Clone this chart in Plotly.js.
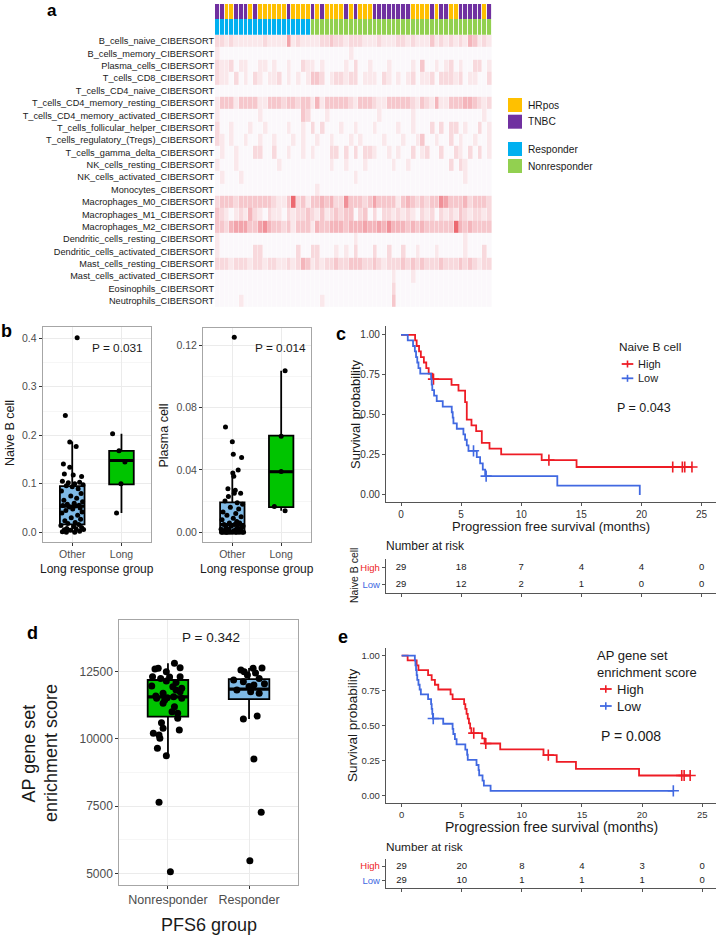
<!DOCTYPE html>
<html><head><meta charset="utf-8">
<script src="https://cdn.plot.ly/plotly-3.0.1.min.js"></script>
<style>html,body{margin:0;padding:0;background:#fff}#chart{width:718px;height:936px}</style>
</head><body><div id="chart"></div>
<script>
const FONT = 'Liberation Sans, Arial, Helvetica, sans-serif';
const W = 718, H = 936;
const PX = x => x / W;
const PY = y => 1 - y / H;

// ---------------- Panel a: CIBERSORT heatmap (intensity levels 0-9) ----------------
const cellTypes = ["B_cells_naive_CIBERSORT","B_cells_memory_CIBERSORT","Plasma_cells_CIBERSORT","T_cells_CD8_CIBERSORT",
  "T_cells_CD4_naive_CIBERSORT","T_cells_CD4_memory_resting_CIBERSORT","T_cells_CD4_memory_activated_CIBERSORT",
  "T_cells_follicular_helper_CIBERSORT","T_cells_regulatory_(Tregs)_CIBERSORT","T_cells_gamma_delta_CIBERSORT",
  "NK_cells_resting_CIBERSORT","NK_cells_activated_CIBERSORT","Monocytes_CIBERSORT","Macrophages_M0_CIBERSORT",
  "Macrophages_M1_CIBERSORT","Macrophages_M2_CIBERSORT","Dendritic_cells_resting_CIBERSORT",
  "Dendritic_cells_activated_CIBERSORT","Mast_cells_resting_CIBERSORT","Mast_cells_activated_CIBERSORT",
  "Eosinophils_CIBERSORT","Neutrophils_CIBERSORT"];

const B_cells_naive = [2,2,1,2,1,1,1,1,1,1, 2,1,1,1,1,5,1,2,1,1, 1,1,2,2,3,2,2,1,2,2, 2,1,1,1,2,1,1,1,2,2, 1,2,1,1,1,3,1,2,1,2, 1,2,1,4,3,1,2,1];
const B_cells_memory = [1,0,0,0,0,0,0,0,0,0, 0,0,0,0,0,0,0,0,0,0, 0,0,0,0,0,0,0,0,1,0, 0,0,0,0,0,0,0,0,0,0, 0,0,0,0,0,0,0,0,0,0, 0,0,0,0,0,0,0,0];
const Plasma_cells = [2,1,1,2,0,1,1,0,0,1, 1,0,1,0,0,1,0,0,2,1, 1,0,1,0,0,0,0,1,0,2, 0,0,1,0,0,0,1,0,0,0, 0,1,0,3,0,0,1,0,1,2, 0,1,0,0,2,2,0,1];
const T_cells_CD8 = [2,1,1,0,2,0,1,0,2,1, 0,1,1,2,0,1,0,1,0,1, 3,3,2,0,1,2,2,1,2,2, 0,1,1,1,0,2,1,0,1,0, 1,2,0,1,1,2,0,2,2,2, 1,2,0,1,1,0,0,2];
const T_cells_CD4_naive = [0,0,0,0,0,0,0,0,0,0, 0,0,0,0,0,0,0,0,0,0, 0,0,0,0,0,0,0,0,0,0, 0,0,0,0,0,0,0,0,0,0, 0,0,0,0,0,0,0,0,0,0, 0,0,0,0,0,0,0,0];
const T_cells_CD4_memory_resting = [1,3,3,3,1,3,3,3,3,1, 1,3,3,3,2,3,3,2,3,3, 1,4,1,3,3,3,3,3,2,1, 3,3,3,2,1,1,3,3,3,3, 3,2,1,3,2,1,4,1,1,3, 3,3,4,4,3,2,1,2];
const T_cells_CD4_memory_activated = [1,0,0,0,0,0,0,0,0,1, 0,0,0,0,0,0,0,0,3,2, 0,0,0,1,0,0,0,0,0,0, 0,0,0,0,1,0,0,0,0,0, 0,1,0,0,0,0,0,0,0,0, 0,0,0,0,0,0,1,0];
const T_cells_follicular_helper = [2,0,0,1,0,0,0,1,0,0, 1,0,0,0,0,1,0,0,1,0, 2,0,2,0,0,0,1,0,0,1, 0,0,0,1,0,0,0,0,1,0, 0,1,0,0,0,2,0,2,0,2, 2,0,1,0,0,2,0,1];
const T_cells_regulatory = [2,1,0,1,0,0,1,0,0,1, 0,0,1,0,0,0,1,0,1,0, 0,1,0,0,1,0,0,0,1,0, 1,0,0,0,0,1,0,0,0,1, 0,0,1,3,0,0,1,0,0,2, 0,1,0,0,1,0,0,1];
const T_cells_gamma_delta = [0,1,0,0,1,0,0,0,2,2, 0,0,2,0,0,1,0,0,1,0, 1,0,0,0,2,2,0,2,0,2, 0,2,2,1,0,0,1,0,1,0, 0,2,0,1,2,0,0,2,0,0, 2,1,0,2,0,2,0,1];
const NK_cells_resting = [1,0,0,0,1,0,0,0,0,0, 0,0,0,1,0,0,0,0,0,0, 0,0,0,0,1,0,0,1,0,0, 0,1,0,0,0,0,0,1,0,0, 1,0,0,0,0,0,0,0,0,2, 0,2,1,0,0,0,0,0];
const NK_cells_activated = [0,1,0,0,0,1,0,0,0,0, 0,0,0,0,0,0,0,0,0,0, 0,0,0,0,0,0,0,0,0,1, 0,0,0,0,0,0,0,0,0,0, 0,0,0,0,0,0,0,0,0,0, 0,0,1,0,0,0,0,0];
const Monocytes = [0,0,0,0,0,0,0,0,0,0, 0,0,0,0,0,0,0,0,0,0, 0,1,0,0,0,0,0,0,0,0, 0,0,0,0,0,0,0,0,0,0, 0,0,0,0,0,0,0,0,0,0, 0,0,0,0,0,0,0,0];
const Macrophages_M0 = [2,3,3,3,2,3,3,3,3,3, 3,3,2,1,1,3,8,2,3,1, 3,3,4,3,4,2,2,6,3,3, 3,2,3,5,3,3,3,3,1,3, 4,3,2,3,2,3,3,6,5,3, 3,3,4,2,3,3,3,2];
const Macrophages_M1 = [3,2,1,0,1,2,1,4,2,1, 0,2,1,1,0,2,1,2,2,3, 2,1,3,1,2,3,2,3,3,0, 2,3,0,2,0,2,2,1,2,1, 2,1,0,2,1,2,0,2,1,2, 1,3,2,1,2,2,1,2];
const Macrophages_M2 = [3,3,2,4,5,5,5,3,3,5, 6,4,3,3,2,3,1,3,3,3, 1,4,3,3,4,4,4,3,4,4, 4,5,4,4,5,4,6,4,4,4, 3,4,3,4,3,3,3,3,3,3, 8,4,3,4,3,3,3,3];
const Dendritic_cells_resting = [1,0,0,0,0,0,0,0,0,0, 0,0,0,0,0,0,0,0,0,0, 0,0,0,0,0,0,0,0,0,1, 0,0,0,0,0,0,0,0,0,0, 0,0,0,0,0,0,0,0,0,0, 0,0,1,0,0,0,0,0];
const Dendritic_cells_activated = [1,0,0,0,0,0,0,0,2,2, 0,0,0,0,0,0,0,2,0,0, 2,2,0,0,0,1,0,1,0,2, 0,0,0,2,0,0,2,0,0,2, 0,0,1,0,0,0,1,0,0,0, 0,0,1,0,0,0,2,0];
const Mast_cells_resting = [2,2,2,1,2,2,2,1,2,2, 1,2,2,1,1,2,1,2,4,3, 1,2,1,2,2,3,2,2,3,3, 3,2,2,3,2,1,2,2,2,3, 2,3,2,3,2,2,2,3,2,2, 2,3,2,3,2,1,2,2];
const Mast_cells_activated = [0,0,0,0,0,0,0,0,0,0, 0,0,0,0,0,0,0,0,0,0, 0,0,0,0,0,0,0,0,0,0, 0,0,0,0,0,0,0,1,0,0, 0,1,0,0,0,0,0,0,0,0, 0,0,0,0,0,0,0,0];
const Eosinophils = [0,0,0,0,0,0,0,0,0,0, 0,0,0,0,0,0,0,0,0,0, 0,0,0,0,0,0,0,0,0,0, 0,0,0,0,0,0,0,2,0,0, 0,0,0,0,0,0,0,0,0,0, 0,0,0,0,0,0,0,0];
const Neutrophils = [0,0,0,0,0,1,0,0,0,0, 0,0,0,0,0,0,0,0,0,0, 0,0,1,0,0,0,0,0,0,0, 0,0,0,0,0,0,0,3,0,0, 0,0,0,0,0,0,0,0,0,0, 0,0,0,0,0,0,0,0];

const subtype = ["TNBC","TNBC","HRpos","HRpos","TNBC","TNBC","TNBC","HRpos","TNBC","HRpos",
  "HRpos","HRpos","HRpos","HRpos","HRpos","TNBC","HRpos","HRpos","HRpos","HRpos",
  "TNBC","HRpos","TNBC","HRpos","HRpos","HRpos","HRpos","TNBC","HRpos","TNBC",
  "HRpos","HRpos","HRpos","TNBC","TNBC","TNBC","TNBC","TNBC","TNBC","TNBC",
  "TNBC","HRpos","HRpos","HRpos","HRpos","TNBC","HRpos","TNBC","TNBC","HRpos",
  "HRpos","TNBC","TNBC","TNBC","TNBC","TNBC","HRpos","TNBC"];
const response = ["Responder","Responder","Responder","Responder","Responder","Responder","Responder","Responder","Responder","Responder",
  "Responder","Responder","Responder","Responder","Responder","Responder","Responder","Responder","Responder","Responder",
  "Nonresponder","Nonresponder","Nonresponder","Nonresponder","Nonresponder","Nonresponder","Nonresponder","Nonresponder","Nonresponder","Nonresponder",
  "Nonresponder","Nonresponder","Nonresponder","Nonresponder","Nonresponder","Nonresponder","Nonresponder","Nonresponder","Nonresponder","Nonresponder",
  "Nonresponder","Nonresponder","Nonresponder","Nonresponder","Nonresponder","Nonresponder","Nonresponder","Nonresponder","Nonresponder","Nonresponder",
  "Nonresponder","Nonresponder","Nonresponder","Nonresponder","Nonresponder","Nonresponder","Nonresponder","Nonresponder"];
const annoLabels = ["HRpos","TNBC","Responder","Nonresponder"];
const annoColors = ["#ffc000","#7030a0","#00b0f0","#92d050"];

// ---------------- Panel b ----------------
const groupsB = ["Other","Long"];
const naiveB_other = [0.401,0.241,0.186,0.177,0.141,0.134,0.120,0.118,0.115,0.105, 0.103,0.102,0.100,0.098,0.096,0.094,0.090,0.085,0.080,0.075,
  0.070,0.066,0.063,0.060,0.058,0.056,0.055,0.054,0.052,0.050, 0.048,0.045,0.042,0.040,0.035,0.030,0.027,0.024,0.020,0.018,
  0.016,0.014,0.012,0.010,0.008,0.007,0.006,0.005,0.004,0.002, 0.001,0.000,0.000];
const naiveB_other_jit = [0.10,-0.14,-0.05,0.08,-0.18,-0.05,-0.16,0.02,0.19,-0.20, 0.15,-0.08,0.05,0.22,-0.12,0.00,0.12,-0.22,0.18,-0.03,
  0.09,-0.17,0.21,0.04,-0.10,0.14,-0.19,0.07,-0.06,0.16, 0.01,-0.13,0.20,-0.21,0.11,-0.02,0.17,-0.15,0.06,-0.09,
  0.13,-0.23,0.03,0.19,-0.11,0.08,0.23,-0.16,-0.04,0.15, -0.20,0.05,-0.12];
const naiveB_long = [0.203,0.168,0.145,0.100,0.040];
const naiveB_long_jit = [-0.18,-0.05,0.07,-0.01,-0.10];
const naiveB_box = { Other:[0.000,0.0165,0.054,0.095,0.187], Long:[0.040,0.099,0.148,0.168,0.203] }; // lower, q1, median, q3, upper

const plasma_other = [0.125,0.0675,0.058,0.050,0.048,0.040,0.038,0.036,0.028,0.027, 0.025,0.025,0.023,0.020,0.019,0.018,0.016,0.015,0.013,0.012,
  0.011,0.010,0.009,0.008,0.007,0.006,0.006,0.005,0.005,0.004, 0.004,0.003,0.003,0.003,0.002,0.002,0.002,0.001,0.001,0.001,
  0.001,0,0,0,0,0,0,0,0,0, 0,0,0];
const plasma_other_jit = [0.04,-0.14,0.00,0.02,0.19,0.12,0.01,0.03,-0.09,0.06, 0.17,0.04,-0.08,-0.15,0.10,0.21,-0.04,0.13,-0.19,0.07,
  -0.11,0.18,0.02,-0.21,0.09,-0.06,0.15,-0.17,0.05,0.22, -0.02,-0.13,0.11,0.19,-0.23,0.08,-0.07,0.16,-0.18,0.03,
  0.12,-0.20,-0.10,0.06,0.20,-0.15,0.00,0.14,-0.05,0.23, -0.22,0.09,-0.12];
const plasma_long = [0.1035,0.0615,0.039,0.0165,0.0138];
const plasma_long_jit = [0.08,0.00,0.00,-0.14,0.08];
const plasma_box = { Other:[0.000,0.000,0.005,0.0192,0.0388], Long:[0.0138,0.0162,0.0388,0.0619,0.1035] };

// ---------------- Panel c: KM by naive B cell ----------------
const months = [0,5,10,15,20,25];
const cHigh_t = [0,1.17,1.3,1.5,1.65,1.9,2.1,2.3,2.6,4.2,4.78,5.33,5.47,5.86,6.25,6.72,7.36,8.33,11.7,14.6,24.2];
const cHigh_s = [1,0.966,0.931,0.897,0.862,0.828,0.793,0.759,0.724,0.688,0.652,0.580,0.471,0.435,0.399,0.326,0.290,0.254,0.218,0.175,0.175];
const cHigh_ct = [2.7,12.3,22.6,23.4,23.6,24.2];
const cHigh_cs = [0.724,0.218,0.175,0.175,0.175,0.175];
const cLow_t = [0,0.56,1.0,1.15,1.25,1.35,1.45,1.6,2.5,2.55,2.6,2.75,2.97,3.47,4.22,4.3,4.36,4.64,5.19,5.33,5.47,5.61,6.3,6.58,6.8,7.0,13.0,19.86];
const cLow_s = [1,0.966,0.931,0.897,0.862,0.828,0.793,0.759,0.724,0.690,0.655,0.621,0.586,0.552,0.517,0.483,0.448,0.414,0.379,0.345,0.310,0.276,0.236,0.197,0.158,0.118,0.059,0];
const cLow_ct = [6.03,7.08];
const cLow_cs = [0.276,0.118];
const cRiskHigh = [29,18,7,4,4,0];
const cRiskLow = [29,12,2,1,0,0];

// ---------------- Panel d ----------------
const groupsD = ["Nonresponder","Responder"];
const ap_nonresp = [12810,12649,12624,12600,12500,12314,12314,12300,12250,12153, 12100,11967,11942,11880,11818,11756,11700,11600,11570,11530,
  11508,11508,11450,11322,11200,11012,10950,10764,10600,10392, 10330,10206,10144,10020,9648,9375,7639,5060];
const ap_nonresp_jit = [0.08,0.15,-0.12,-0.16,-0.02,-0.19,0.15,0.02,-0.09,-0.02, 0.10,-0.20,0.06,0.17,0.10,0.15,-0.06,-0.15,0.07,-0.01,
  -0.14,0.17,-0.04,-0.06,0.08,0.05,0.12,0.12,-0.08,-0.06, 0.14,-0.18,-0.11,-0.10,-0.13,-0.02,-0.11,0.03];
const ap_resp = [12640,12624,12562,12500,12450,12376,12250,12190,12128,12050, 12004,11950,11818,11756,11694,10851,10739,9251,7267,5469];
const ap_resp_jit = [0.16,0.05,-0.10,-0.06,0.08,-0.02,0.125,-0.19,-0.07,0.19, 0.06,0.00,-0.15,0.02,0.125,0.10,-0.07,0.06,0.15,0.01];
const ap_box = { Nonresponder:[9375,10826,11560,12191,12810], Responder:[10739,11476,11850,12227,12640] };

// ---------------- Panel e: KM by AP score ----------------
const eHigh_t = [0,0.5,1.25,1.4,2.2,2.5,2.77,3.05,4.07,4.24,5.2,5.3,5.4,5.5,5.6,5.7,5.8,6.7,6.9,8.2,11.8,12.9,14.5,19.75,24.0];
const eHigh_s = [1,0.966,0.931,0.897,0.862,0.828,0.793,0.759,0.724,0.690,0.655,0.621,0.586,0.552,0.517,0.483,0.448,0.411,0.374,0.332,0.291,0.243,0.194,0.146,0.146];
const eHigh_ct = [6.0,7.0,12.2,23.3,23.5,24.0];
const eHigh_cs = [0.448,0.374,0.291,0.146,0.146,0.146];
const eLow_t = [0,1.1,1.15,1.2,1.25,1.3,1.4,1.5,1.6,2.2,2.45,2.5,2.55,2.6,3.46,4.24,4.3,4.43,4.57,5.3,5.45,5.5,6.23,6.4,6.45,6.73,6.84,7.4,22.6];
const eLow_s = [1,0.966,0.931,0.897,0.862,0.828,0.793,0.759,0.724,0.690,0.655,0.621,0.586,0.552,0.515,0.478,0.442,0.405,0.368,0.331,0.294,0.258,0.221,0.184,0.147,0.110,0.074,0.037,0.037];
const eLow_ct = [2.63,22.6];
const eLow_cs = [0.552,0.037];
const eRiskHigh = [29,20,8,4,3,0];
const eRiskLow = [29,10,1,1,1,0];

// ---------------- styles ----------------
const RED = '#ee1c25', BLUE = '#4169e1';
const BOXBLUE = '#7fbae6', BOXGREEN = '#00c400';

const traces = [];

// heatmap body
traces.push({
  type:'heatmap', xaxis:'x', yaxis:'y', y: cellTypes,
  z: [B_cells_naive,B_cells_memory,Plasma_cells,T_cells_CD8,T_cells_CD4_naive,T_cells_CD4_memory_resting,
      T_cells_CD4_memory_activated,T_cells_follicular_helper,T_cells_regulatory,T_cells_gamma_delta,
      NK_cells_resting,NK_cells_activated,Monocytes,Macrophages_M0,Macrophages_M1,Macrophages_M2,
      Dendritic_cells_resting,Dendritic_cells_activated,Mast_cells_resting,Mast_cells_activated,Eosinophils,Neutrophils],
  zmin:0, zmax:9, showscale:false, xgap:0.4, hoverinfo:'skip',
  colorscale:[[0,'#fbf8fb'],[0.11,'#fae8eb'],[0.22,'#f8d9dd'],[0.33,'#f6c8cd'],[0.44,'#f4b6bc'],[0.56,'#f2a3aa'],[0.67,'#f08f97'],[0.89,'#ec6970'],[1,'#e9535a']]
});
// annotation bars
traces.push({
  type:'heatmap', xaxis:'x', yaxis:'y2', y:[0,1],
  z:[subtype.map(s => annoLabels.indexOf(s)), response.map(r => annoLabels.indexOf(r))],
  zmin:0, zmax:3, showscale:false, xgap:0.9, hoverinfo:'skip',
  colorscale:[[0,annoColors[0]],[0.1667,annoColors[0]],[0.1667,annoColors[1]],[0.5,annoColors[1]],[0.5,annoColors[2]],[0.8333,annoColors[2]],[0.8333,annoColors[3]],[1,annoColors[3]]]
});

// box helper
function addBox(xc, st, fill, xa, ya, w) {
  traces.push({type:'box', xaxis:xa, yaxis:ya, x:[xc], lowerfence:[st[0]], q1:[st[1]], median:[st[2]], q3:[st[3]], upperfence:[st[4]],
    width:w, fillcolor:fill, line:{color:'#000', width:1.8}, whiskerwidth:0, boxpoints:false, hoverinfo:'skip'});
  traces.push({type:'scatter', mode:'lines', xaxis:xa, yaxis:ya, x:[xc - w/2, xc + w/2], y:[st[2], st[2]],
    line:{color:'#000', width:3.2}, hoverinfo:'skip'});
}
function addPts(xc, vals, jit, size, xa, ya) {
  traces.push({type:'scatter', mode:'markers', xaxis:xa, yaxis:ya, x: jit.map(j => xc + j), y: vals,
    marker:{color:'#000', size:size}, hoverinfo:'skip', cliponaxis:false});
}
// panel b
addBox(1, naiveB_box.Other, BOXBLUE, 'x3', 'y3', 0.5);
addBox(2, naiveB_box.Long, BOXGREEN, 'x3', 'y3', 0.5);
addPts(1, naiveB_other, naiveB_other_jit, 5, 'x3', 'y3');
addPts(2, naiveB_long, naiveB_long_jit, 5, 'x3', 'y3');
addBox(1, plasma_box.Other, BOXBLUE, 'x4', 'y4', 0.5);
addBox(2, plasma_box.Long, BOXGREEN, 'x4', 'y4', 0.5);
addPts(1, plasma_other, plasma_other_jit, 5, 'x4', 'y4');
addPts(2, plasma_long, plasma_long_jit, 5, 'x4', 'y4');
// panel d
addBox(1, ap_box.Nonresponder, BOXGREEN, 'x7', 'y7', 0.5);
addBox(2, ap_box.Responder, BOXBLUE, 'x7', 'y7', 0.5);
addPts(1, ap_nonresp, ap_nonresp_jit, 7, 'x7', 'y7');
addPts(2, ap_resp, ap_resp_jit, 7, 'x7', 'y7');

// KM helper
function addKM(t, s, ct, cs, color, xa, ya) {
  traces.push({type:'scatter', mode:'lines', xaxis:xa, yaxis:ya, x:t, y:s, line:{color:color, width:1.8, shape:'hv'}, hoverinfo:'skip'});
  traces.push({type:'scatter', mode:'markers', xaxis:xa, yaxis:ya, x:ct, y:cs,
    marker:{symbol:'cross-thin', size:8, color:color, line:{color:color, width:1.6}}, hoverinfo:'skip', cliponaxis:false});
}
addKM(cHigh_t, cHigh_s, cHigh_ct, cHigh_cs, RED, 'x5', 'y5');
addKM(cLow_t, cLow_s, cLow_ct, cLow_cs, BLUE, 'x5', 'y5');
addKM(eHigh_t, eHigh_s, eHigh_ct, eHigh_cs, RED, 'x8', 'y8');
addKM(eLow_t, eLow_s, eLow_ct, eLow_cs, BLUE, 'x8', 'y8');

function addRisk(vals, row, xa, ya) {
  traces.push({type:'scatter', mode:'text', xaxis:xa, yaxis:ya, x:months, y:months.map(() => row), text:vals.map(String),
    textposition:'middle center', textfont:{family:FONT, size:9.5, color:'#1a1a1a'}, hoverinfo:'skip', cliponaxis:false});
}
addRisk(cRiskHigh, 2, 'x6', 'y6');
addRisk(cRiskLow, 1, 'x6', 'y6');
addRisk(eRiskHigh, 2, 'x9', 'y9');
addRisk(eRiskLow, 1, 'x9', 'y9');

// ---------------- axes ----------------
const bwX = (dom, anchor, ticktext, tfs) => ({domain:dom, anchor:anchor, range:[0.4,2.6], tickmode:'array', tickvals:[1,2], ticktext:ticktext,
  ticks:'outside', ticklen:3, tickcolor:'#333', tickfont:{family:FONT, size:tfs, color:'#4d4d4d'},
  showgrid:true, gridcolor:'#ebebeb', gridwidth:1, showline:true, mirror:true, linecolor:'#a6a6a6', linewidth:1, zeroline:false, fixedrange:true});
const bwY = (dom, anchor, range, tv, tt, minor, tfs) => ({domain:dom, anchor:anchor, range:range, tickmode:'array', tickvals:tv, ticktext:tt,
  ticks:'outside', ticklen:3, tickcolor:'#333', tickfont:{family:FONT, size:tfs, color:'#4d4d4d'},
  showgrid:true, gridcolor:'#ebebeb', gridwidth:1, minor:{tickvals:minor, showgrid:true, gridcolor:'#f4f4f4', gridwidth:0.8, ticks:''},
  showline:true, mirror:true, linecolor:'#a6a6a6', linewidth:1, zeroline:false, fixedrange:true});
const kmX = (dom, anchor, range, labels) => ({domain:dom, anchor:anchor, range:range, tickmode:'array', tickvals:months, ticktext:months.map(String),
  showticklabels:labels, ticks:'outside', ticklen:3, tickcolor:'#555', tickwidth:1, tickfont:{family:FONT, size:10, color:'#333'},
  showgrid:false, zeroline:false, showline:true, linecolor:'#555', linewidth:1.2, fixedrange:true});
const kmY = (dom, anchor, range) => ({domain:dom, anchor:anchor, range:range, tickmode:'array', tickvals:[0,0.25,0.5,0.75,1],
  ticktext:['0.00','0.25','0.50','0.75','1.00'], ticks:'outside', ticklen:3, tickcolor:'#555', tickfont:{family:FONT, size:10, color:'#333'},
  showgrid:false, zeroline:false, showline:true, linecolor:'#555', linewidth:1.2, fixedrange:true});
const riskY = (dom, anchor) => ({domain:dom, anchor:anchor, range:[0.5,2.5], tickmode:'array', tickvals:[1,2],
  ticktext:['<span style="color:' + BLUE + '">Low</span>','<span style="color:' + RED + '">High</span>'],
  ticks:'outside', ticklen:3, tickcolor:'#555', tickfont:{family:FONT, size:9.5},
  showgrid:false, zeroline:false, showline:true, linecolor:'#555', linewidth:1.2, fixedrange:true});

const layout = {
  width:W, height:H, margin:{l:0,r:0,t:0,b:0}, paper_bgcolor:'#fff', plot_bgcolor:'rgba(0,0,0,0)',
  showlegend:false, font:{family:FONT, color:'#1a1a1a'},
  xaxis:{domain:[PX(215),PX(492)], anchor:'y', range:[-0.5,57.5], visible:false, fixedrange:true},
  yaxis:{domain:[PY(307.2),PY(34.8)], anchor:'x', type:'category', autorange:'reversed', tickmode:'array', tickvals:cellTypes, ticktext:cellTypes,
    ticks:'', showline:false, showgrid:false, zeroline:false, tickfont:{family:FONT, size:9.2, color:'#1a1a1a'}, fixedrange:true},
  yaxis2:{domain:[PY(34.8),PY(4)], anchor:'x', range:[1.5,-0.5], visible:false, fixedrange:true},

  xaxis3: bwX([PX(42.7),PX(151)], 'y3', groupsB, 10.5),
  yaxis3: bwY([PY(541.7),PY(327)], 'x3', [-0.0194,0.4233], [0,0.1,0.2,0.3,0.4], ['0.0','0.1','0.2','0.3','0.4'], [0.05,0.15,0.25,0.35], 10.5),
  xaxis4: bwX([PX(203),PX(310.5)], 'y4', groupsB, 10.5),
  yaxis4: bwY([PY(541.7),PY(328)], 'x4', [-0.006,0.1309], [0,0.04,0.08,0.12], ['0.00','0.04','0.08','0.12'], [0.02,0.06,0.10], 10.5),

  xaxis5: kmX([PX(386),PX(716)], 'y5', [-1.25,26.2], true),
  yaxis5: kmY([PY(501.7),PY(326)], 'x5', [-0.042,1.056]),
  xaxis6: kmX([PX(386),PX(716)], 'y6', [-1.25,26.2], false),
  yaxis6: riskY([PY(592.6),PY(559.4)], 'x6'),

  xaxis7: bwX([PX(119.3),PX(297.7)], 'y7', groupsD, 12.5),
  yaxis7: bwY([PY(885),PY(620)], 'x7', [4565,14423], [5000,7500,10000,12500], ['5000','7500','10000','12500'], [6250,8750,11250,13750], 12),

  xaxis8: kmX([PX(386),PX(716)], 'y8', [-1.3,26.15], true),
  yaxis8: kmY([PY(802.7),PY(648.4)], 'x8', [-0.0478,1.052]),
  xaxis9: kmX([PX(386),PX(716)], 'y9', [-1.3,26.15], false),
  yaxis9: riskY([PY(887.5),PY(859)], 'x9'),
  annotations: [], shapes: []
};
layout.xaxis8.tickfont = {family:FONT, size:9.5, color:'#333'};
layout.yaxis8.tickfont = {family:FONT, size:9.5, color:'#333'};

function ann(text, x, y, o) {
  o = o || {};
  layout.annotations.push({text:text, x:PX(x), y:PY(y), xref:'paper', yref:'paper', showarrow:false,
    xanchor:o.xa || 'center', yanchor:o.ya || 'middle', align:o.align || 'center', textangle:o.angle || 0, borderpad:0,
    font:{family:FONT, size:o.size || 12, color:o.color || '#1a1a1a'}});
}
function rect(x0,y0,x1,y1,fill){ layout.shapes.push({type:'rect', xref:'paper', yref:'paper', x0:PX(x0), x1:PX(x1), y0:PY(y1), y1:PY(y0), fillcolor:fill, line:{width:0}}); }
function seg(x0,y0,x1,y1,color,w){ layout.shapes.push({type:'line', xref:'paper', yref:'paper', x0:PX(x0), x1:PX(x1), y0:PY(y0), y1:PY(y1), line:{color:color, width:w}}); }

// panel letters
ann('<b>a</b>', 52, 0, {size:17, color:'#000', ya:'top'});
ann('<b>b</b>', 6, 331, {size:18, color:'#000'});
ann('<b>c</b>', 341, 334, {size:18, color:'#000'});
ann('<b>d</b>', 32, 633, {size:18, color:'#000'});
ann('<b>e</b>', 343, 637, {size:18, color:'#000'});

// heatmap legend
const legY = [105, 121.7, 149, 166];
annoLabels.forEach((lab, i) => { rect(508, legY[i]-7, 522, legY[i]+7, annoColors[i]); ann(lab, 527, legY[i], {xa:'left', size:10.2}); });

// panel b texts
ann('Naive B cell', 10, 433, {angle:-90, size:12.5});
ann('Plasma cell', 163.5, 436, {angle:-90, size:12.5});
ann('Long response group', 97, 569, {size:12});
ann('Long response group', 257, 569, {size:12});
ann('P = 0.031', 118, 348, {size:11.8});
ann('P = 0.014', 280, 348, {size:11.8});

// panel c texts
ann('Survival probability', 355, 414, {angle:-90, size:13});
ann('Progression free survival (months)', 551, 526, {size:13});
ann('Naive B cell', 618, 347, {xa:'left', size:11.8});
ann('High<br>Low', 637, 371.2, {xa:'left', align:'left', size:11});
seg(621.7, 364, 633.3, 364, RED, 1.8); seg(627.5, 360.5, 627.5, 367.5, RED, 1.6);
seg(621.7, 378.3, 633.3, 378.3, BLUE, 1.8); seg(627.5, 374.8, 627.5, 381.8, BLUE, 1.6);
ann('P = 0.043', 616, 408.3, {xa:'left', size:12.5});
ann('Number at risk', 385, 546, {xa:'left', size:12});
ann('Naive B cell', 354, 576, {angle:-90, size:10.5});

// panel d texts
ann('AP gene set', 28.5, 753, {angle:-90, size:18});
ann('enrichment score', 51, 753, {angle:-90, size:18});
ann('P = 0.342', 210.7, 637, {size:13.5});
ann('PFS6 group', 208.5, 925, {size:18});

// panel e texts
ann('Survival probability', 352, 725, {angle:-90, size:13.5});
ann('Progression free survival (months)', 551, 827, {size:14});
ann('AP gene set<br>enrichment score', 596, 664, {xa:'left', align:'left', size:13});
ann('High<br>Low', 616, 697.5, {xa:'left', align:'left', size:13});
seg(600, 689, 611.7, 689, RED, 1.8); seg(605.8, 685.3, 605.8, 692.7, RED, 1.6);
seg(600, 706, 611.7, 706, BLUE, 1.8); seg(605.8, 702.3, 605.8, 709.7, BLUE, 1.6);
ann('P = 0.008', 600, 735.7, {xa:'left', size:14});
ann('Number at risk', 385, 846.7, {xa:'left', size:11.8});

Plotly.newPlot('chart', traces, layout, {staticPlot:true, displayModeBar:false});
</script></body></html>
